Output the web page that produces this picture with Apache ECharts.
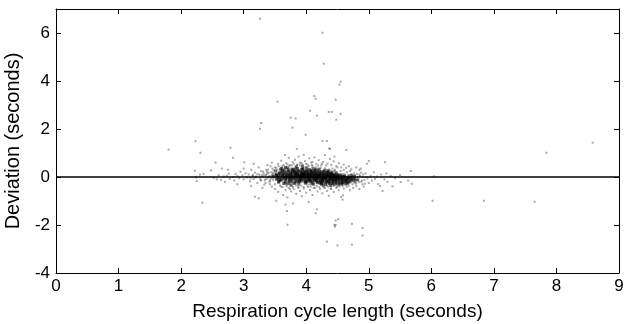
<!DOCTYPE html>
<html><head><meta charset="utf-8">
<script src="https://cdn.jsdelivr.net/npm/echarts@6/dist/echarts.min.js"></script>
<style>html,body{margin:0;padding:0;background:#fff}#c{width:626px;height:324px}</style>
</head><body><div id="c"></div>
<script>
var xTicks = [0,1,2,3,4,5,6,7,8,9];
var yTicks = [-4,-2,0,2,4,6];
var zeroLine = [[0,0],[9,0]];
var outliersHigh = [[3.26,6.6],[4.26,6.01],[4.28,4.72],[4.55,3.97],[4.53,3.85],[4.13,3.37],[4.15,3.26],[4.47,3.22],[3.54,3.14],[3.75,2.47],[3.83,2.44],[4.06,2.76],[4.17,2.56],[4.36,2.71],[4.41,2.71],[4.55,2.63],[4.48,2.39],[3.28,2.25],[3.26,2.01],[3.78,2.06],[3.99,1.76],[4.26,1.5],[4.33,1.5],[4.37,1.19],[3.66,0.92],[3.96,0.92],[4.3,0.92]];
var outliersLow = [[3.52,-0.99],[3.67,-1.15],[3.69,-1.42],[3.70,-1.99],[4.04,-1.04],[4.17,-1.35],[4.15,-1.51],[4.33,-2.69],[4.50,-2.85],[4.47,-2.0],[4.46,-2.07],[4.51,-1.76],[4.45,-1.99],[4.47,-1.82],[4.73,-2.82],[4.73,-1.95],[4.9,-2.12],[4.9,-2.44],[4.36,-0.78],[4.56,-0.83]];
var outliersFar = [[1.8,1.14],[2.23,1.49],[2.31,1.01],[2.79,1.22],[2.83,0.8],[2.34,-1.07],[6.04,0.03],[6.02,-0.99],[6.84,-0.99],[7.65,-1.03],[7.84,1.01],[8.58,1.43]];
var haloLeft = [[2.22,0.26],[2.24,-0.02],[2.25,-0.17],[2.3,0.1],[2.36,0.12],[2.48,0.27],[2.52,-0.03],[2.55,0.6],[2.6,0.08],[2.64,-0.12],[2.68,0.03],[2.7,-0.2],[2.73,0.05],[2.76,0.14],[2.78,-0.08],[2.82,0.0],[2.85,-0.15],[2.87,0.12],[2.9,0.04],[2.93,-0.05],[2.95,0.22],[2.98,0.07],[3.0,-0.1],[3.01,0.61],[3.03,0.15],[3.05,-0.02],[3.08,0.1],[3.1,-0.18],[3.12,0.3],[3.14,0.05],[3.16,-0.08],[3.18,0.18],[3.2,0.02],[3.22,-0.25],[3.24,0.4],[3.25,0.09],[3.27,-0.12],[3.28,0.25],[3.3,0.0],[3.32,0.14],[3.33,-0.32],[3.35,0.06],[3.36,0.3],[3.38,-0.06],[3.4,0.18],[3.41,-0.2],[3.43,0.45],[3.44,0.03],[3.46,0.12],[3.47,-0.12],[3.48,0.28],[3.3,-0.45],[3.38,0.5],[3.18,-0.82],[3.24,-0.89],[3.16,0.55],[3.0,0.35],[2.9,-0.3],[2.75,0.3],[2.65,0.35],[2.57,-0.1],[3.45,-0.4],[3.12,-0.38],[3.32,0.05],[3.35,-0.08],[3.38,0.15],[3.4,0.0],[3.42,-0.15],[3.44,0.2],[3.46,0.08],[3.48,-0.05],[3.49,0.1],[3.36,0.1],[3.41,0.05],[3.45,-0.02]];
var haloUpper = [[3.55,0.55],[3.6,0.68],[3.62,0.45],[3.68,0.58],[3.72,0.8],[3.74,0.5],[3.78,0.62],[3.82,0.72],[3.85,0.5],[3.88,0.85],[3.92,0.58],[3.98,0.66],[4.02,0.52],[4.05,0.78],[4.08,0.6],[4.13,0.82],[4.16,0.55],[4.2,0.7],[4.24,0.48],[4.27,0.62],[4.34,0.56],[4.38,0.75],[4.4,0.5],[4.44,0.65],[4.48,0.45],[4.52,0.58],[4.56,0.4],[4.6,0.52],[4.64,0.38],[4.68,0.45],[4.72,0.32],[4.8,0.4],[4.85,0.3],[4.97,0.55],[5.0,0.67],[5.26,0.62],[5.67,0.25],[4.64,1.13],[4.38,1.17],[3.85,1.17],[3.5,0.4],[3.45,0.6],[4.1,0.45],[3.9,0.48],[4.45,0.85]];
var haloLower = [[3.5,-0.5],[3.55,-0.62],[3.6,-0.4],[3.63,-0.75],[3.67,-0.55],[3.7,-0.85],[3.72,-0.45],[3.76,-0.6],[3.79,-1.1],[3.8,-0.5],[3.84,-0.7],[3.87,-0.42],[3.9,-0.58],[3.93,-0.8],[3.96,-0.48],[4.0,-0.65],[4.03,-0.42],[4.06,-0.55],[4.1,-0.75],[4.14,-0.45],[4.18,-0.6],[4.22,-0.5],[4.26,-0.68],[4.3,-0.45],[4.33,-0.58],[4.4,-0.5],[4.44,-0.62],[4.48,-0.45],[4.52,-0.55],[4.58,-0.94],[4.59,-0.76],[4.6,-0.48],[4.65,-0.4],[4.7,-0.55],[4.75,-0.45],[4.8,-0.38],[4.85,-0.5],[4.9,-0.3]];
var haloRight = [[4.82,-0.1],[4.85,0.1],[4.88,-0.2],[4.9,0.0],[4.93,-0.12],[4.95,0.15],[4.98,-0.05],[5.0,-0.25],[5.03,0.05],[5.05,-0.15],[5.08,0.2],[5.1,-0.08],[5.13,0.02],[5.15,-0.3],[5.18,-0.38],[5.2,0.1],[5.22,-0.58],[5.25,-0.1],[5.28,0.15],[5.3,-0.2],[5.35,0.05],[5.38,-0.39],[5.42,-0.05],[5.5,0.08],[5.51,-0.21],[5.63,-0.15],[5.69,-0.28],[4.87,0.35],[4.92,-0.4]];
var haloInner = [[3.52,0.38],[3.56,0.45],[3.58,-0.35],[3.62,-0.42],[3.64,0.5],[3.66,0.38],[3.69,-0.38],[3.7,0.52],[3.73,0.44],[3.74,-0.5],[3.77,0.48],[3.79,-0.42],[3.8,0.55],[3.83,0.4],[3.84,-0.35],[3.86,0.52],[3.88,-0.45],[3.9,0.6],[3.92,-0.36],[3.94,0.52],[3.96,-0.42],[3.99,0.4],[4.0,0.55],[4.02,-0.35],[4.04,0.46],[4.07,-0.4],[4.09,0.5],[4.1,0.62],[4.12,-0.45],[4.15,0.42],[4.17,-0.38],[4.19,0.48],[4.21,-0.42],[4.23,0.38],[4.25,0.55],[4.28,-0.44],[4.3,0.36],[4.32,0.48],[4.35,-0.4],[4.37,0.32],[4.39,-0.48],[4.42,0.35],[4.44,-0.38],[4.46,0.3],[4.49,-0.42],[4.5,0.4],[4.53,-0.4],[4.55,0.25],[4.58,-0.38],[4.6,0.3],[4.63,-0.35],[4.65,0.2],[4.68,-0.36],[4.7,0.25],[4.74,-0.3],[4.76,0.15],[4.79,-0.28],[4.81,0.12],[4.84,-0.22],[4.86,0.05],[4.89,-0.15],[4.91,0.1],[4.94,-0.28],[4.96,0.0],[3.46,0.35],[3.42,-0.3],[3.39,0.3],[3.35,-0.25],[3.31,0.22],[3.28,-0.15],[3.5,-0.3],[3.54,0.3],[3.6,0.4],[3.68,-0.32],[3.75,0.35],[3.95,0.38],[4.05,-0.3],[4.14,0.32],[4.2,0.36],[4.33,-0.35],[4.45,0.25],[4.62,-0.3],[4.72,0.12],[4.8,-0.12],[4.83,0.0],[4.88,0.18],[4.78,0.08],[4.74,-0.18],[3.47,0.18],[3.43,-0.08],[3.37,0.22],[3.34,-0.14],[3.29,0.08],[3.26,-0.05],[3.22,0.12],[3.19,-0.02],[3.15,0.08],[3.11,-0.06]];
var clusterCore = [[3.52,0.12],[3.54,-0.05],[3.51,0.25],[3.56,-0.18],[3.53,0.03],
[3.57,0.18],[3.58,-0.1],[3.55,0.06],[3.59,0.32],[3.56,-0.22],[3.58,0.09],
[3.61,0.22],[3.62,0.0],[3.6,-0.14],[3.63,0.11],[3.61,0.35],[3.64,-0.27],[3.62,0.06],
[3.66,0.15],[3.67,-0.08],[3.65,0.28],[3.68,0.02],[3.66,-0.2],[3.67,0.4],[3.69,0.09],[3.65,-0.03],
[3.71,0.3],[3.72,0.12],[3.7,-0.02],[3.73,-0.15],[3.71,0.21],[3.74,0.05],[3.72,-0.28],[3.7,0.38],[3.73,0.0],
[3.76,0.19],[3.77,0.07],[3.75,-0.1],[3.78,0.26],[3.76,-0.04],[3.79,0.33],[3.77,-0.22],[3.75,0.13],[3.78,0.01],[3.76,-0.35],
[3.81,0.24],[3.82,0.1],[3.8,-0.06],[3.83,0.03],[3.81,0.17],[3.84,-0.18],[3.82,0.31],[3.8,-0.01],[3.83,0.08],[3.81,-0.27],[3.84,0.42],
[3.86,0.14],[3.87,0.28],[3.85,-0.09],[3.88,0.05],[3.86,0.2],[3.89,-0.15],[3.87,0.0],[3.85,0.11],[3.88,-0.3],[3.86,0.36],[3.89,0.07],
[3.91,0.22],[3.92,0.04],[3.9,-0.12],[3.93,0.16],[3.91,-0.02],[3.94,0.3],[3.92,0.09],[3.9,-0.2],[3.93,0.12],[3.91,-0.06],[3.94,0.45],[3.92,0.01],
[3.96,0.18],[3.97,0.06],[3.95,-0.08],[3.98,0.25],[3.96,0.0],[3.99,-0.17],[3.97,0.12],[3.95,0.34],[3.98,-0.03],[3.96,0.08],[3.99,-0.26],[3.97,0.15],
[4.01,0.2],[4.02,0.1],[4.0,-0.05],[4.03,0.02],[4.01,0.28],[4.04,-0.14],[4.02,0.07],[4.0,-0.22],[4.03,0.15],[4.01,0.38],[4.04,-0.01],[4.02,0.05],
[4.06,0.16],[4.07,0.03],[4.05,-0.1],[4.08,0.23],[4.06,-0.04],[4.09,0.09],[4.07,-0.19],[4.05,0.31],[4.08,0.0],[4.06,0.12],[4.09,-0.28],[4.07,0.06],
[4.11,0.12],[4.12,-0.02],[4.1,0.2],[4.13,-0.12],[4.11,0.05],[4.14,0.27],[4.12,-0.07],[4.1,-0.21],[4.13,0.09],[4.11,0.35],[4.14,0.0],[4.12,-0.3],
[4.16,0.1],[4.17,-0.05],[4.15,0.18],[4.18,0.02],[4.16,-0.15],[4.19,0.25],[4.17,-0.09],[4.15,0.06],[4.18,-0.24],[4.16,0.32],[4.19,0.0],[4.17,0.13],
[4.21,0.08],[4.22,-0.06],[4.2,0.15],[4.23,-0.14],[4.21,0.01],[4.24,0.22],[4.22,-0.22],[4.2,0.04],[4.23,-0.1],[4.21,0.3],[4.24,-0.3],[4.22,0.11],
[4.26,0.06],[4.27,-0.1],[4.25,0.14],[4.28,-0.02],[4.26,-0.18],[4.29,0.2],[4.27,0.0],[4.25,-0.26],[4.28,0.09],[4.26,-0.06],[4.29,0.28],[4.27,-0.35],
[4.31,0.04],[4.32,-0.08],[4.3,0.12],[4.33,-0.16],[4.31,0.0],[4.34,0.19],[4.32,-0.24],[4.3,-0.04],[4.33,0.08],[4.31,-0.32],[4.34,0.26],
[4.36,0.02],[4.37,-0.12],[4.35,0.1],[4.38,-0.05],[4.36,-0.2],[4.39,0.16],[4.37,-0.28],[4.35,0.06],[4.38,-0.09],[4.36,0.24],[4.39,-0.36],
[4.41,0.0],[4.42,-0.1],[4.4,0.08],[4.43,-0.18],[4.41,0.14],[4.44,-0.04],[4.42,-0.26],[4.4,0.05],[4.43,-0.13],[4.41,0.21],
[4.46,-0.02],[4.47,-0.12],[4.45,0.06],[4.48,-0.2],[4.46,0.12],[4.49,-0.07],[4.47,-0.3],[4.45,0.02],[4.48,0.18],
[4.51,-0.04],[4.52,-0.14],[4.5,0.05],[4.53,-0.22],[4.51,0.1],[4.54,-0.08],[4.52,-0.32],[4.5,0.0],
[4.56,-0.05],[4.57,-0.15],[4.55,0.03],[4.58,-0.24],[4.56,0.09],[4.59,-0.1],[4.57,-0.3],
[4.61,-0.06],[4.62,-0.16],[4.6,0.02],[4.63,-0.25],[4.61,0.08],[4.64,-0.11],
[4.66,-0.08],[4.67,-0.02],[4.65,-0.18],[4.68,0.05],[4.66,-0.27],
[4.71,-0.09],[4.72,0.0],[4.7,-0.2],[4.73,0.06],
[4.76,-0.1],[4.78,-0.2],[4.77,0.02]];
var clusterCore2 = [[3.575,0.0],[3.575,0.15],[3.575,-0.12],[3.625,0.05],[3.625,0.18],[3.625,-0.08],[3.625,0.28],[3.675,-0.12],[3.675,0.2],[3.675,0.06],[3.675,-0.25],[3.725,0.08],[3.725,-0.07],[3.725,0.25],[3.725,-0.2],[3.775,0.04],[3.775,0.17],[3.775,-0.14],[3.775,0.3],[3.825,-0.1],[3.825,0.14],[3.825,0.0],[3.825,0.22],[3.825,-0.22],[3.875,0.1],[3.875,-0.04],[3.875,0.24],[3.875,-0.2],[3.925,0.06],[3.925,-0.08],[3.925,0.2],[3.925,0.32],[3.925,-0.16],[3.975,0.03],[3.975,0.21],[3.975,-0.12],[3.975,0.1],[3.975,-0.2],[4.025,0.12],[4.025,-0.1],[4.025,0.24],[4.025,0.0],[4.025,-0.18],[4.075,0.08],[4.075,-0.06],[4.075,0.2],[4.075,-0.15],[4.075,0.28],[4.125,0.02],[4.125,0.16],[4.125,-0.16],[4.125,0.24],[4.125,-0.05],[4.175,0.06],[4.175,-0.12],[4.175,0.2],[4.175,-0.2],[4.175,-0.02],[4.225,0.0],[4.225,0.18],[4.225,-0.16],[4.225,0.08],[4.225,-0.26],[4.275,-0.04],[4.275,0.1],[4.275,-0.14],[4.275,0.22],[4.275,-0.22],[4.325,-0.02],[4.325,-0.12],[4.325,0.16],[4.325,-0.2],[4.325,0.06],[4.375,-0.06],[4.375,0.04],[4.375,-0.16],[4.375,0.14],[4.375,-0.24],[4.425,-0.08],[4.425,0.02],[4.425,-0.2],[4.425,0.1],[4.425,-0.3],[4.475,-0.1],[4.475,0.0],[4.475,-0.16],[4.475,0.08],[4.475,-0.25],[4.525,-0.12],[4.525,-0.02],[4.525,0.06],[4.525,-0.26],[4.575,-0.08],[4.575,-0.18],[4.575,0.0],[4.575,-0.26],[4.625,-0.1],[4.625,0.0],[4.625,-0.2],[4.675,-0.12],[4.675,-0.04],[4.675,-0.22],[4.725,-0.06],[4.725,-0.14],[4.775,-0.08],[4.825,-0.12],[3.525,0.08],[3.525,-0.1],[3.475,0.02]];

var FONT = 'Liberation Sans';
var chart = echarts.init(document.getElementById('c'), null, {renderer:'canvas'});
var lineStyle = {color:'#000', width:1};
function sc(name, data, size, color){
  return {name:name, type:'scatter', data:data, symbol:'rect', symbolSize:size,
    itemStyle:{color:color}, silent:true, animation:false, z:3};
}
var halo = 'rgba(0,0,0,0.42)';
chart.setOption({
  animation:false,
  grid:{left:56, right:7, top:9, bottom:51, containLabel:false, outerBoundsMode:'none'},
  xAxis:[{type:'value', min:0, max:9, interval:1, position:'bottom',
      name:'Respiration cycle length (seconds)', nameLocation:'middle', nameGap:29,
      nameTextStyle:{fontFamily:FONT, fontSize:19, color:'#000'},
      axisLine:{show:true, onZero:false, lineStyle:lineStyle},
      axisTick:{show:true, inside:true, length:5, lineStyle:lineStyle},
      axisLabel:{fontFamily:FONT, fontSize:17, color:'#000', margin:5,
        formatter:function(v){return xTicks.indexOf(v)>=0?String(v):'';}},
      splitLine:{show:false}},
    {type:'value', min:0, max:9, interval:1, position:'top',
      axisLine:{show:true, onZero:false, lineStyle:lineStyle},
      axisTick:{show:true, inside:true, length:5, lineStyle:lineStyle},
      axisLabel:{show:false}, splitLine:{show:false}}],
  yAxis:[{type:'value', min:-4, max:7, interval:2, position:'left',
      name:'Deviation (seconds)', nameLocation:'middle', nameGap:30, nameRotate:90,
      nameTextStyle:{fontFamily:FONT, fontSize:20, color:'#000'},
      axisLine:{show:true, onZero:false, lineStyle:lineStyle},
      axisTick:{show:true, inside:true, length:5, lineStyle:lineStyle},
      axisLabel:{fontFamily:FONT, fontSize:17, color:'#000', margin:6,
        formatter:function(v){return yTicks.indexOf(v)>=0?String(v):'';}},
      splitLine:{show:false}},
    {type:'value', min:-4, max:7, interval:2, position:'right',
      axisLine:{show:true, onZero:false, lineStyle:lineStyle},
      axisTick:{show:true, inside:true, length:5, lineStyle:lineStyle},
      axisLabel:{show:false}, splitLine:{show:false}}],
  series:[
    {type:'line', data:zeroLine, symbol:'none', lineStyle:{color:'#000', width:1.5}, silent:true, z:2},
    sc('outliersHigh', outliersHigh, 2, halo),
    sc('outliersLow', outliersLow, 2, halo),
    sc('outliersFar', outliersFar, 2, halo),
    sc('haloLeft', haloLeft, 2, halo),
    sc('haloUpper', haloUpper, 2, halo),
    sc('haloLower', haloLower, 2, halo),
    sc('haloRight', haloRight, 2, halo),
    sc('haloInner', haloInner, 2, halo),
    sc('clusterCore', clusterCore, 3, 'rgba(0,0,0,0.7)'),
    sc('clusterCore2', clusterCore2, 3, 'rgba(0,0,0,0.7)')
  ]
});
</script></body></html>
